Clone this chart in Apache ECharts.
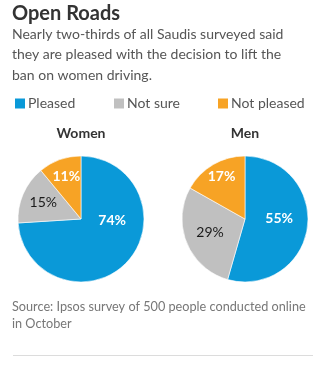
<!DOCTYPE html>
<html>
<head>
<meta charset="utf-8">
<script src="https://cdn.jsdelivr.net/npm/echarts@6/dist/echarts.min.js"></script>
<style>
  html, body { margin: 0; padding: 0; background: #fff; }
  #chart { width: 326px; height: 372px; }
</style>
</head>
<body>
<div id="chart"></div>
<script>
// Survey answers, in percent
const categories = ['Pleased', 'Not sure', 'Not pleased'];
const women = [74, 15, 11];
const men = [55, 29, 17];
const groups = ['Women', 'Men'];

const colors = ['#0a99d8', '#c0c0c0', '#f7a325'];
const labelColors = ['#ffffff', '#1a1a1a', '#ffffff'];
const FONT = 'Lato, "Noto Sans", sans-serif';

// nudges for the in-slice percentage labels
const womenNudge = [[6, -22], [-6, -3], [-3, -10]];
const menNudge = [[0, -5], [-3, 0], [-6, -13]];

// left edge of each legend entry
const legendLefts = [13, 112, 216];

function pieSeries(name, values, cx, nudge) {
  return {
    type: 'pie',
    name: name,
    center: [cx, 219],
    radius: [0, 63],
    startAngle: 90,
    clockwise: true,
    silent: true,
    itemStyle: { borderColor: '#ffffff', borderWidth: 0.6 },
    label: {
      show: true,
      position: 'inside',
      fontFamily: FONT,
      fontSize: 14,
      fontWeight: 'bold',
      formatter: p => p.value + '%'
    },
    labelLine: { show: false },
    labelLayout: p => ({ dx: nudge[p.dataIndex][0], dy: nudge[p.dataIndex][1] }),
    data: categories.map((c, i) => ({
      name: c,
      value: values[i],
      itemStyle: { color: colors[i] },
      label: { color: labelColors[i], fontWeight: i === 1 ? 'normal' : 'bold' }
    }))
  };
}

const chart = echarts.init(document.getElementById('chart'), null, { renderer: 'canvas' });
chart.setOption({
  animation: false,
  color: colors,
  title: [
    {
      text: 'Open Roads',
      left: 12, top: 4, padding: 0,
      textStyle: { fontFamily: FONT, fontSize: 20, fontWeight: 'bold', color: '#333' }
    },
    {
      text: 'Nearly two-thirds of all Saudis surveyed said\nthey are pleased with the decision to lift the\nban on women driving.',
      left: 12, top: 24, padding: 0,
      textStyle: { fontFamily: FONT, fontSize: 14, fontWeight: 'normal', color: '#555', lineHeight: 20.5 }
    },
    {
      text: groups[0],
      left: 81, top: 126, padding: 0, textAlign: 'center',
      textStyle: { fontFamily: FONT, fontSize: 14, fontWeight: 'bold', color: '#333' }
    },
    {
      text: groups[1],
      left: 245, top: 126, padding: 0, textAlign: 'center',
      textStyle: { fontFamily: FONT, fontSize: 14, fontWeight: 'bold', color: '#333' }
    },
    {
      text: 'Source: Ipsos survey of 500 people conducted online\nin October',
      left: 12, top: 299, padding: 0,
      textStyle: { fontFamily: FONT, fontSize: 12.7, fontWeight: 'normal', color: '#777', lineHeight: 16.5 }
    }
  ],
  legend: categories.map((c, i) => ({
    left: legendLefts[i], top: 96.5, padding: 0,
    data: [c],
    icon: 'rect',
    itemWidth: 12, itemHeight: 12,
    selectedMode: false,
    textStyle: { fontFamily: FONT, fontSize: 14, color: '#555', padding: [0, 0, 0, -3] }
  })),
  graphic: [
    {
      type: 'line',
      shape: { x1: 13, y1: 355.5, x2: 313, y2: 355.5 },
      style: { stroke: '#dcdcdc', lineWidth: 1 }
    }
  ],
  series: [
    pieSeries(groups[0], women, 81, womenNudge),
    pieSeries(groups[1], men, 245, menNudge)
  ]
});
</script>
</body>
</html>
